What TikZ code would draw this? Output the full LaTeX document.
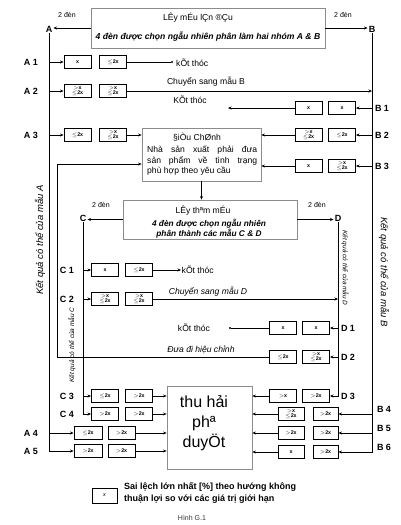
\documentclass[tikz,border=0pt]{standalone}
\usepackage{fontspec}
\setmainfont{Liberation Sans}
\usetikzlibrary{arrows.meta}
\begin{document}
\begin{tikzpicture}[x=1pt,y=-1pt,font=\fontsize{8.6}{10}\selectfont,
  ln/.style={line width=0.6pt},
  arr/.style={ln,-{Stealth[length=3.5pt,width=3pt]}},
  sb/.style={draw,line width=0.9pt,minimum width=27pt,minimum height=13pt,inner sep=0pt,
    font=\fontsize{5.3}{5.4}\selectfont\bfseries,align=center},
  bigbox/.style={draw=black!45,line width=0.8pt,fill=white,inner sep=0pt},
  lab/.style={font=\fontsize{9}{10}\selectfont\bfseries,inner sep=1pt},
  sml/.style={font=\fontsize{7}{8}\selectfont},
  dot/.style={circle,fill,inner sep=0pt,minimum size=2.4pt},
  side/.style={font=\fontsize{9.5}{10}\selectfont\itshape},
  sidesm/.style={font=\fontsize{6.5}{7}\selectfont\itshape},
]
\useasboundingbox (0,0) rectangle (400,525);

% ---------- top box ----------
\node[bigbox,minimum width=234pt,minimum height=40pt] (top) at (208,28) {};
\node (toptitle) at (198,18) {LÊy mÉu lÇn ®Çu};
\node[font=\fontsize{8.6}{10}\selectfont\bfseries\itshape] (topsub) at (208,37) {4 đèn được chọn ngẫu nhiên phân làm hai nhóm A \& B};
\node[lab] (A) at (49,29) {A};
\node[lab] (B) at (372,29) {B};
\node[sml] (twoA) at (67,15) {2 đèn};
\node[sml] (twoB) at (343,15) {2 đèn};
\draw[arr] (top.west) -- (top.west -| A.east);
\draw[arr] (top.east) -- (top.east -| B.west);

% ---------- A/B small boxes ----------
\node[sb] (a1a) at (77.5,62) {x};
\node[sb] (a1b) at (113,62) {$\le$2x};
\node[sb] (a2a) at (77.5,91) {$>$x\\$\le$2x};
\node[sb] (a2b) at (113,91) {$>$x\\$\le$2x};
\node[sb] (a3a) at (77.5,135) {$\le$2x};
\node[sb] (a3b) at (113,135) {$>$x\\$\le$2x};
\node[sb] (b1a) at (308.5,108) {x};
\node[sb] (b1b) at (342,108) {x};
\node[sb] (b2a) at (308.5,135) {$>$x\\$\le$2x};
\node[sb] (b2b) at (342,135) {$\le$2x};
\node[sb] (b3a) at (308.5,166) {x};
\node[sb] (b3b) at (342,166) {$>$x\\$\le$2x};

\node[lab] (lA1) at (31,62) {A 1};
\node[lab] (lA2) at (31,91) {A 2};
\node[lab] (lA3) at (31,135) {A 3};
\node[lab] (lB1) at (382,108) {B 1};
\node[lab] (lB2) at (382,135) {B 2};
\node[lab] (lB3) at (382,166) {B 3};

% A1 end
\node[dot] (a1dot) at (172,62) {};
\node[anchor=west,inner sep=1pt] (a1end) at (175,63) {kÕt thóc};
\draw[ln] (a1b.east) -- (a1dot);
% A2
\node (a2txt) at (206,82) {Chuyển sang mẫu B};
\draw[arr] (a2b.east) -- (B |- a2b);
% B1
\coordinate (b1end) at (228,108);
\node (b1txt) at (190,100) {KÕt thóc};
\draw[arr] (b1a.west) -- (b1end);

% ---------- correction box ----------
\node[bigbox,minimum width=119pt,minimum height=53pt] (dc) at (201.5,154.5) {};
\node (dctitle) at (197,137) {§iÒu ChØnh};
\node[align=left,inner sep=0pt,anchor=north west,font=\fontsize{8.6}{10.5}\selectfont] (dctxt) at (147,146)
  {\makebox[110pt][s]{Nhà sản xuất phải đưa}\\
   \makebox[110pt][s]{sản phẩm về tình trạng}\\
   phù hợp theo yêu cầu};
\draw[arr] (a3b.east) -- (a3b.east -| dc.west);
\draw[arr] (b2a.west) -- (b2a.west -| dc.east);
\draw[arr] (b3a.west) -- (b3a.west -| dc.east);

% ---------- second sampling box ----------
\node[bigbox,minimum width=174pt,minimum height=39pt] (t2) at (210,219.5) {};
\node (t2title) at (203,211) {LÊy thªm mÉu};
\node[font=\fontsize{8.3}{10}\selectfont\bfseries\itshape,align=center] (t2sub) at (209,228.5)
  {4 đèn được chọn ngẫu nhiên\\phân thành các mẫu C \& D};
\draw[arr] (dc.south) -- (dc.south |- t2.north);
\node[lab] (C) at (83,218) {C};
\node[lab] (D) at (338,218) {D};
\node[sml] (twoC) at (101,205) {2 đèn};
\node[sml] (twoD) at (317,205) {2 đèn};
\draw[arr] (t2.west) -- (t2.west -| C.east);
\draw[arr] (t2.east) -- (t2.east -| D.west);

% ---------- C/D small boxes ----------
\node[sb] (c1a) at (105,270) {x};
\node[sb] (c1b) at (139,270) {$\le$2x};
\node[sb] (c2a) at (105,299) {$>$x\\$\le$2x};
\node[sb] (c2b) at (139,299) {$>$x\\$\le$2x};
\node[sb] (c3a) at (105,396) {$\le$2x};
\node[sb] (c3b) at (139,396) {$>$2x};
\node[sb] (c4a) at (105,414) {$>$2x};
\node[sb] (c4b) at (139,414) {$>$2x};
\node[sb] (d1a) at (283,328) {x};
\node[sb] (d1b) at (316,328) {x};
\node[sb] (d2a) at (283,357) {$\le$2x};
\node[sb] (d2b) at (316,357) {$>$x\\$\le$2x};
\node[sb] (d3a) at (283,396) {$>$x};
\node[sb] (d3b) at (316,396) {$>$2x};

\node[lab] (lC1) at (67,270) {C 1};
\node[lab] (lC2) at (67,299) {C 2};
\node[lab] (lC3) at (67,396) {C 3};
\node[lab] (lC4) at (67,414) {C 4};
\node[lab] (lD1) at (348,328) {D 1};
\node[lab] (lD2) at (348,357) {D 2};
\node[lab] (lD3) at (348,396) {D 3};

% C1 end
\node[anchor=west,inner sep=0.5pt] (c1end) at (181,270) {kÕt thóc};
\draw[arr] (c1b.east) -- (c1end.west);
% C2
\node[font=\fontsize{8.6}{10}\selectfont\itshape] (c2txt) at (208,292) {Chuyển sang mẫu D};
\draw[arr] (c2b.east) -- (D |- c2b);
% D1
\node[dot] (d1dot) at (230,328) {};
\node (d1txt) at (194,328) {kÕt thóc};
\draw[ln] (d1a.west) -- (d1dot);
% D2 -> correction
\node[font=\fontsize{8.6}{10}\selectfont\itshape] (d2txt) at (201,350) {Đưa đi hiệu chỉnh};
\coordinate (lc) at (57,164);
\draw[arr] (d2a.west) -| (lc) -- (lc -| dc.west);

% ---------- approval box ----------
\node[bigbox,minimum width=85pt,minimum height=83pt] (th) at (209.5,427.5) {};
\node[font=\fontsize{16}{20}\selectfont,align=center] (thtxt) at (204,423) {thu hải\\phª\\duyÖt};

% ---------- A4-A5, B4-B6 ----------
\node[sb,minimum width=28pt] (a4a) at (88,433) {$\le$2x};
\node[sb] (a4b) at (121.5,433) {$>$2x};
\node[sb,minimum width=28pt] (a5a) at (88,451) {$>$2x};
\node[sb] (a5b) at (121.5,451) {$>$2x};
\node[sb,minimum width=26pt] (b4a) at (291,414) {$>$x\\$\le$2x};
\node[sb,minimum width=25pt] (b4b) at (325.5,414) {$>$2x};
\node[sb,minimum width=26pt] (b5a) at (291,433) {$>$2x};
\node[sb,minimum width=25pt] (b5b) at (325.5,433) {$>$2x};
\node[sb,minimum width=26pt] (b6a) at (291,452) {x};
\node[sb,minimum width=25pt] (b6b) at (325.5,452) {$>$2x};
\node[lab] (lA4) at (31,433) {A 4};
\node[lab] (lA5) at (31,451) {A 5};
\node[lab] (lB4) at (384,409) {B 4};
\node[lab] (lB5) at (384,428) {B 5};
\node[lab] (lB6) at (384,447) {B 6};

% ---------- trunk lines ----------
\draw[arr] (A.south) |- (a5a.west);
\foreach \r in {a1a,a2a,a3a,a4a} {\draw[arr] (A |- \r) -- (\r.west);}
\draw[arr] (B.south) |- (b6b.east);
\foreach \r in {b1b,b2b,b3b,b4b,b5b} {\draw[arr] (B |- \r) -- (\r.east);}
\draw[arr] (C.south) |- (c4a.west);
\foreach \r in {c1a,c2a,c3a} {\draw[arr] (C |- \r) -- (\r.west);}
\draw[arr] (D.south) |- (d3b.east);
\foreach \r in {d1b,d2b} {\draw[arr] (D |- \r) -- (\r.east);}

% into approval box
\foreach \r in {c3b,c4b,a4b,a5b} {\draw[arr] (\r.east) -- (\r.east -| th.west);}
\foreach \r in {d3a,b4a,b5a,b6a} {\draw[arr] (\r.west) -- (\r.west -| th.east);}

% ---------- side labels ----------
\node[side,rotate=90] (ra) at (40,240) {Kết quả có thể của mẫu A};
\node[side,rotate=-90] (rb) at (384,272) {Kết quả có thể của mẫu B};
\node[sidesm,rotate=90] (rc) at (72,345) {Kết quả có thể của mẫu C};
\node[sidesm,rotate=-90] (rd) at (345,268) {Kết quả có thể của mẫu D};

% ---------- legend ----------
\node[sb,minimum width=25pt,minimum height=15pt,font=\fontsize{5.5}{5.5}\selectfont\itshape] (lg) at (104.5,495.5) {x};
\node[anchor=west,align=left,font=\fontsize{9}{12}\selectfont\bfseries,inner sep=0pt] (lgtxt) at (124,493)
  {Sai lệch lớn nhất [\%] theo hướng không\\thuận lợi so với các giá trị giới hạn};
\node[sml,text=black!80] (cap) at (192,518) {Hình G.1};
\end{tikzpicture}
\end{document}
